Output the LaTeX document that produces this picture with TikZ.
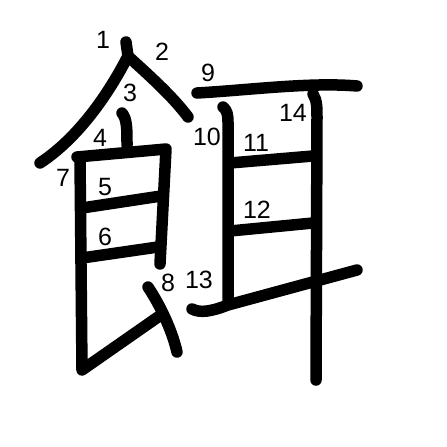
\documentclass[tikz,border=0pt]{standalone}
\usepackage{fontspec}
\setmainfont{Liberation Sans}
\begin{document}
\begin{tikzpicture}[x=1pt,y=-1pt,
  strk/.style={line width=11.5pt,line cap=round,line join=round},
  num/.style={font=\fontsize{25}{25}\selectfont,inner sep=0pt}]
\useasboundingbox[fill=white] (0,0) rectangle (447,447);
% stroke 1
\draw[strk] (126,42) -- (128,56) .. controls (108,95) and (78,138) .. (40,163);
% stroke 2
\draw[strk] (130,58) .. controls (152,78) and (173,97) .. (188,117);
% stroke 3
\draw[strk] (122,113) .. controls (127,119) and (127,129) .. (127,145);
% stroke 4
\draw[strk] (77,157) -- (166,149) -- (160,264);
% stroke 5
\draw[strk] (82,208) -- (161,196);
% stroke 6
\draw[strk] (82,258) -- (158,247);
% stroke 7
\draw[strk] (80,158) -- (82,370) -- (158,317);
% stroke 8
\draw[strk] (148,287) .. controls (160,305) and (172,330) .. (177,352);
% stroke 9
\draw[strk] (197,93) .. controls (250,90) and (310,82) .. (357,86);
% stroke 10
\draw[strk] (223,107) .. controls (227,110) and (228,115) .. (228,122) -- (228,301);
% stroke 11
\draw[strk] (230,163) -- (313,156);
% stroke 12
\draw[strk] (230,231) -- (313,223);
% stroke 13
\draw[strk] (192,309) .. controls (200,313) and (210,312) .. (228,305) -- (357,270);
% stroke 14
\draw[strk] (313,94) .. controls (317,100) and (317,108) .. (317,118) -- (316,380);
% numbers
\node[num] (n1) at (103,40) {1};
\node[num] (n2) at (162,52) {2};
\node[num] (n3) at (130,93) {3};
\node[num] (n4) at (100,138) {4};
\node[num] (n5) at (105,187) {5};
\node[num] (n6) at (105,237) {6};
\node[num] (n7) at (63,178) {7};
\node[num] (n8) at (168,283) {8};
\node[num] (n9) at (208,73) {9};
\node[num] (n10) at (207,137) {10};
\node[num] (n11) at (256,143) {11};
\node[num] (n12) at (257,210) {12};
\node[num] (n13) at (199,280) {13};
\node[num] (n14) at (293,113) {14};
\end{tikzpicture}
\end{document}
